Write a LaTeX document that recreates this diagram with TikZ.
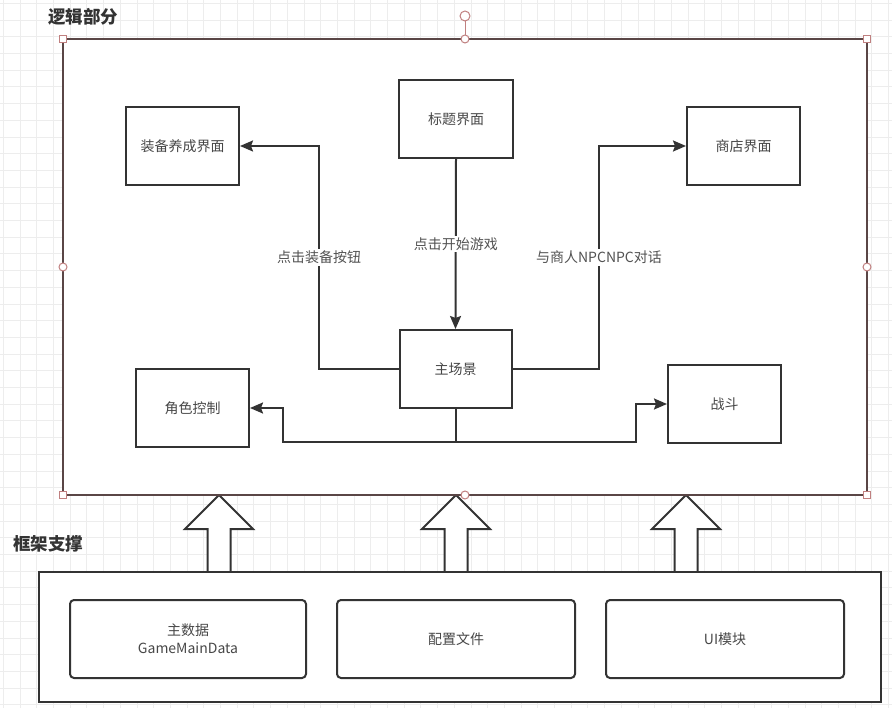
\documentclass[tikz,border=0pt]{standalone}
\usepackage{fontspec}
\setmainfont{Noto Sans CJK SC}
\usetikzlibrary{arrows.meta}
\definecolor{ink}{HTML}{333333}
\definecolor{frame}{HTML}{5A4646}
\definecolor{handle}{HTML}{C08080}
\definecolor{gridc}{HTML}{EDEDED}
\tikzset{
  box/.style={draw=ink,line width=2pt,fill=white,minimum width=113pt,minimum height=78pt,inner sep=0pt,font=\fontsize{14}{16}\selectfont,text=ink!90},
  rbox/.style={draw=ink,line width=2pt,fill=white,rounded corners=4pt,minimum width=236pt,minimum height=78pt,inner sep=0pt,font=\fontsize{14}{18}\selectfont,text=ink!90,align=center},
  conn/.style={draw=ink,line width=2pt,-{Stealth[length=13pt,width=11pt,inset=2pt]}},
  plain/.style={draw=ink,line width=2pt},
  lbl/.style={fill=white,inner sep=2pt,font=\fontsize{14}{16}\selectfont,text=ink!85},
  ttl/.style={font=\fontsize{17.5}{20}\selectfont\bfseries,text=ink,inner sep=0pt,anchor=west},
  blk/.style={draw=ink,line width=2pt,fill=white,line join=miter},
  sqh/.style={draw=handle,fill=white,line width=1pt,minimum size=7pt,inner sep=0pt},
  cih/.style={draw=handle,fill=white,line width=1pt,circle,minimum size=8pt,inner sep=0pt},
  gridline/.style={draw=gridc,line width=0.7pt}
}
\begin{document}
\begin{tikzpicture}[x=1pt,y=-1pt]
\useasboundingbox (0,0) rectangle (892,708);
\fill[white] (0,0) rectangle (892,708);
% grid
\foreach \i in {0,...,53} { \draw[gridline] (3.3+16.7*\i,0) -- (3.3+16.7*\i,708); }
\foreach \j in {0,...,42} { \draw[gridline] (0,3.3+16.7*\j) -- (892,3.3+16.7*\j); }

% block arrows
\foreach \cx in {219,456,686} {
  \draw[blk] (\cx,495) -- (\cx+34,529) -- (\cx+11.5,529) -- (\cx+11.5,572) -- (\cx-11.5,572) -- (\cx-11.5,529) -- (\cx-34,529) -- cycle;
}

% logic frame
\draw[draw=frame,line width=2.2pt,fill=white] (63,39) rectangle (867,495);
\node[ttl] (t1) at (48,17) {逻辑部分};

% framework
\draw[plain,fill=white] (39,572) rectangle (881,702);
\node[ttl] (t2) at (13,543.5) {框架支撑};

\node[rbox] (data) at (188,639) {主数据\\GameMainData};
\node[rbox,minimum width=238pt] (cfg) at (456,639) {配置文件};
\node[rbox,minimum width=238pt] (ui) at (725,639) {UI模块};

% nodes
\node[box] (equip) at (182.5,146) {装备养成界面};
\node[box,minimum width=114pt] (title) at (456,119) {标题界面};
\node[box] (shop) at (743.5,146) {商店界面};
\node[box,minimum width=112pt] (main) at (455.5,369) {主场景};
\node[box] (role) at (192.5,408) {角色控制};
\node[box] (fight) at (724.5,404) {战斗};

% connectors
\draw[conn] (title.south) -- node[lbl] {点击开始游戏} (main.north);
\draw[conn] (main.west) -- (319,369) -- node[lbl] {点击装备按钮} (319,146) -- (equip.east);
\draw[conn] (main.east) -- (599,369) -- node[lbl] {与商人NPCNPC对话} (599,146) -- (shop.west);
\coordinate (jn) at (455.5,442);
\draw[plain] (main.south) -- (jn);
\draw[conn] (jn) -- (283,442) -- (283,408) -- (role.east);
\draw[conn] (jn) -- (636,442) -- (636,404) -- (fight.west);

% selection handles
\draw[draw=handle,line width=1pt] (465,16) -- (465,39);
\node[cih,minimum size=10pt] (rot) at (465,16) {};
\node[sqh] (h1) at (63,39) {};
\node[sqh] (h2) at (867,39) {};
\node[sqh] (h3) at (63,495) {};
\node[sqh] (h4) at (867,495) {};
\node[cih] (m1) at (465,39) {};
\node[cih] (m2) at (63,267) {};
\node[cih] (m3) at (867,267) {};
\node[cih] (m4) at (465,495) {};
\end{tikzpicture}
\end{document}
